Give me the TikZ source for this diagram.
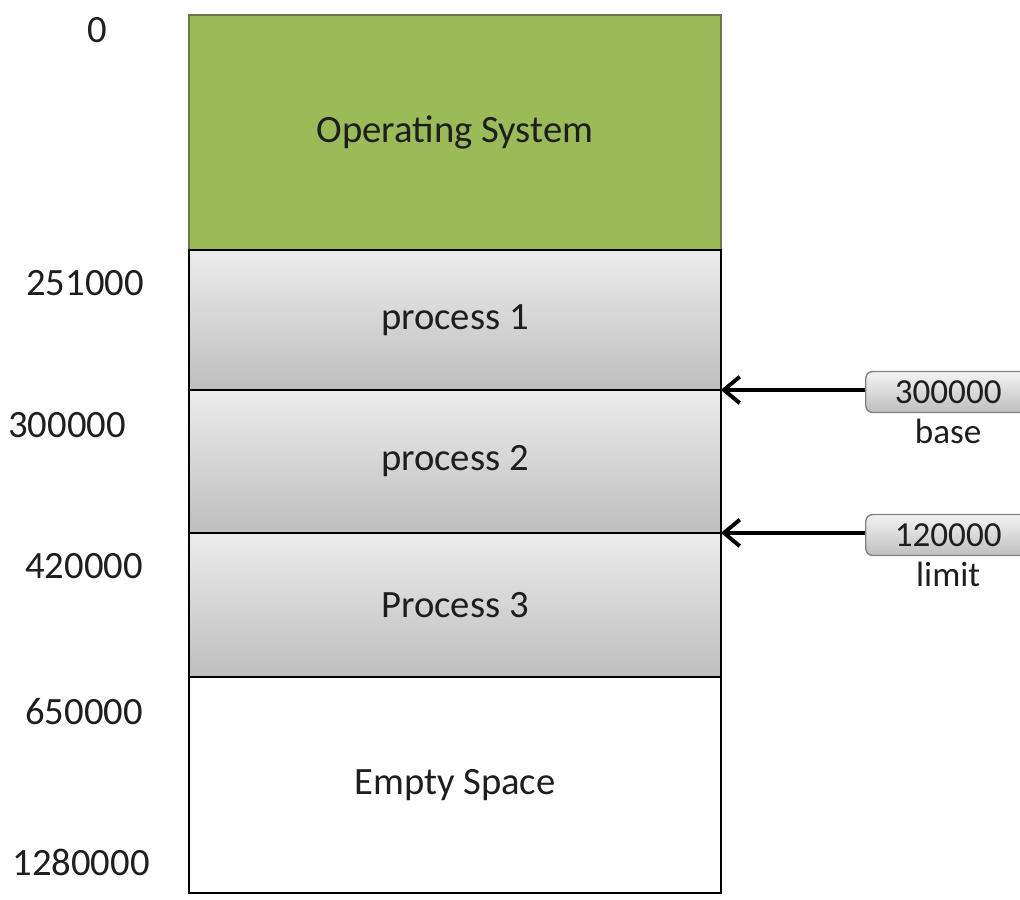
\documentclass[tikz,border=0pt]{standalone}
\usepackage{fontspec}
\setmainfont{Carlito}
\usetikzlibrary{positioning,arrows.meta}

\definecolor{osgreen}{RGB}{155,187,89}
\definecolor{osedge}{RGB}{105,118,78}
\definecolor{proctop}{RGB}{236,236,236}
\definecolor{procbot}{RGB}{190,190,190}
\definecolor{tagedge}{RGB}{130,130,130}
\definecolor{txtgrey}{RGB}{30,30,30}

\tikzset{
  seg/.style={draw=black, line width=1.4pt, minimum width=10.64cm, inner sep=0pt,
    outer sep=0pt, text=txtgrey, font=\fontsize{22}{26}\selectfont},
  procbox/.style={seg, top color=proctop, bottom color=procbot},
  tag/.style={draw=tagedge, line width=0.8pt, rounded corners=4pt, top color=proctop!60!white,
    bottom color=procbot, minimum width=3.3cm, minimum height=0.82cm, inner sep=0pt,
    text=txtgrey, font=\fontsize{20}{24}\selectfont},
  addr/.style={text=txtgrey, font=\fontsize{22}{26}\selectfont},
  ptr/.style={-{Straight Barb[length=9pt,width=15pt]}, line width=2.2pt}
}

\begin{document}
\begin{tikzpicture}[x=0.02cm,y=-0.02cm]
   \useasboundingbox (0,0) rectangle (1020,899);
   % memory column
   \node[seg, fill=osgreen, draw=osedge, minimum height=4.7cm, anchor=north west] (os) at (189,15) {Operating System};
   \node[procbox, minimum height=2.8cm] (p1) [below=0pt of os] {process 1};
   \node[procbox, minimum height=2.86cm] (p2) [below=0pt of p1] {process 2};
   \node[procbox, minimum height=2.88cm] (p3) [below=0pt of p2] {Process 3};
   \node[seg, fill=white, minimum height=4.32cm] (empty) [below=0pt of p3] {Empty Space};
   % addresses
   \node[addr] (a0) at (97,30) {0};
   \node[addr] (a1) at (85,283) {251000};
   \node[addr] (a2) at (67,425) {300000};
   \node[addr] (a3) at (84,566) {420000};
   \node[addr] (a4) at (84,712) {650000};
   \node[addr] (a5) at (81,862) {1280000};
   % registers
   \node[tag, anchor=west] (basebox) at (865,392) {300000};
   \node[addr, font=\fontsize{20}{24}\selectfont] (baselbl) [below=0pt of basebox] {base};
   \node[tag, anchor=west] (limitbox) at (865,535) {120000};
   \node[addr, font=\fontsize{20}{24}\selectfont] (limitlbl) [below=0pt of limitbox] {limit};
    \path[ptr]
    (p1.south east -| basebox.west) edge (p1.south east)
    (p2.south east -| limitbox.west) edge (p2.south east);
\end{tikzpicture}
\end{document}
